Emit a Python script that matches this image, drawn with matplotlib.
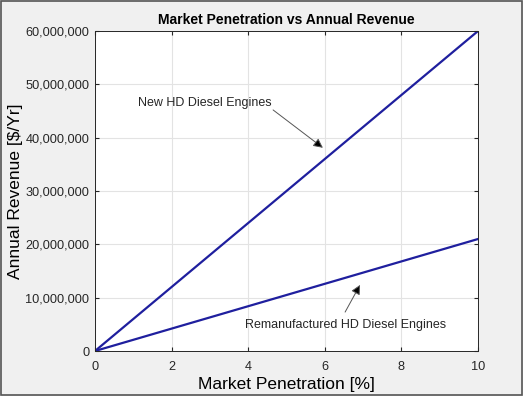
import matplotlib

matplotlib.use("Agg")
import matplotlib.pyplot as plt
from matplotlib.patches import Rectangle
from matplotlib.ticker import FuncFormatter

plt.rcParams["font.family"] = ["Liberation Sans", "DejaVu Sans"]

# market penetration [%] and revenue [$/yr]
penetration = [0, 10]
new_revenue = [0, 60_000_000]
reman_revenue = [0, 21_000_000]

x_ticks = [0, 2, 4, 6, 8, 10]
y_ticks = [0, 10_000_000, 20_000_000, 30_000_000, 40_000_000, 50_000_000, 60_000_000]

fig = plt.figure(figsize=(5.23, 3.96), dpi=100, facecolor="#f0f0f0")
ax = fig.add_axes([0.1816, 0.1136, 0.7324, 0.8081])

line_color = "#1f1f9e"
ax.plot(penetration, new_revenue, color=line_color, linewidth=1.6)
ax.plot(penetration, reman_revenue, color=line_color, linewidth=1.6)

ax.set_xlim(0, 10)
ax.set_ylim(0, 60_000_000)
ax.set_xticks(x_ticks)
ax.set_yticks(y_ticks)
ax.yaxis.set_major_formatter(FuncFormatter(lambda v, _: f"{int(v):,}"))
ax.grid(True, color="#e3e3e3", linewidth=0.8)
ax.set_axisbelow(True)
ax.tick_params(labelsize=9.2, colors="#262626", direction="in", length=3,
               top=True, right=True, pad=4)
ax.tick_params(axis="x", pad=7)
for spine in ax.spines.values():
    spine.set_color("#262626")
    spine.set_linewidth(0.7)

ax.set_title("Market Penetration vs Annual Revenue", fontsize=10,
             fontweight="bold", pad=5)
ax.set_xlabel("Market Penetration [%]", fontsize=12.5, labelpad=3)
ax.set_ylabel("Annual Revenue [$/Yr]", fontsize=12.5, labelpad=2)

ax.text(2.87, 46.5e6, "New HD Diesel Engines", ha="center", va="center",
        fontsize=9, color="#262626")
ax.annotate("", xy=(5.95, 38.1e6), xytext=(4.65, 45.2e6),
            arrowprops=dict(arrowstyle="-|>", color="#555555", lw=0.7,
                            shrinkA=0, shrinkB=0, mutation_scale=14,
                            fc="black", ec="#555555"))
ax.text(6.53, 4.9e6, "Remanufactured HD Diesel Engines", ha="center",
        va="center", fontsize=9, color="#262626")
ax.annotate("", xy=(6.92, 12.4e6), xytext=(6.53, 7.3e6),
            arrowprops=dict(arrowstyle="-|>", color="#555555", lw=0.7,
                            shrinkA=0, shrinkB=0, mutation_scale=14,
                            fc="black", ec="#555555"))

fig.patches.append(Rectangle((0.002, 0.002), 0.996, 0.996, transform=fig.transFigure,
                             fill=False, edgecolor="#555555", linewidth=1.2))

fig.savefig("out.png", dpi=100, facecolor=fig.get_facecolor())
